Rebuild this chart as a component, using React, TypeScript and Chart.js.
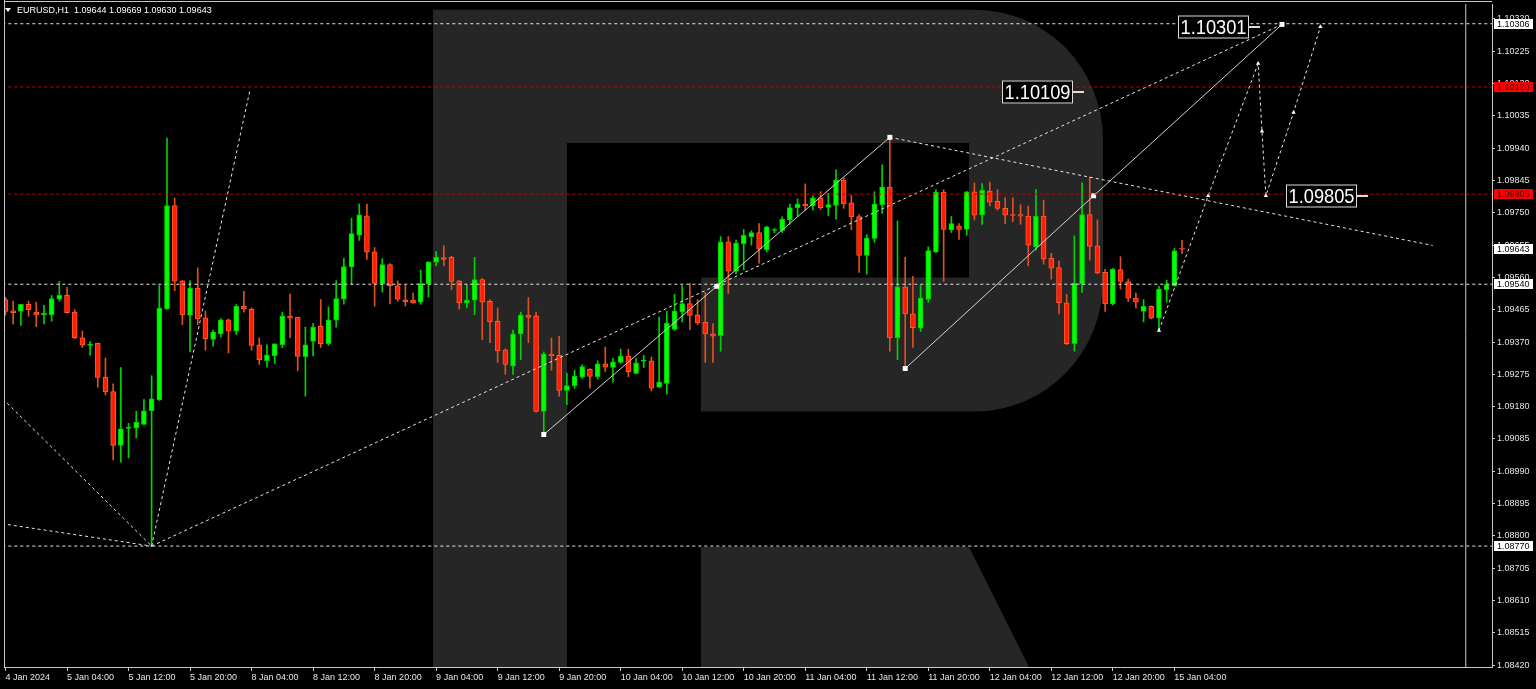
import React, { useEffect, useRef } from "react";
import { Chart, registerables } from "chart.js";

Chart.register(...registerables);

// ---------- data ----------
const open = [
  1.09495, 1.09462, 1.0946, 1.09481, 1.09458, 1.0945, 1.0945, 1.09496, 1.09507, 1.09458,
  1.09382, 1.0936, 1.09366, 1.09267, 1.09224, 1.09066, 1.09116, 1.09117, 1.09128, 1.09168,
  1.092, 1.09467, 1.09771, 1.0955, 1.09448, 1.09529, 1.09441, 1.09378, 1.09394, 1.09435,
  1.09402, 1.09475, 1.09467, 1.09362, 1.09315, 1.0933, 1.09362, 1.09446, 1.09443, 1.09327,
  1.09372, 1.09416, 1.09365, 1.09434, 1.09496, 1.09591, 1.09684, 1.09741, 1.09635, 1.09541,
  1.09598, 1.09535, 1.09494, 1.09493, 1.09487, 1.09541, 1.09605, 1.09618, 1.09619, 1.0955,
  1.09485, 1.09493, 1.09554, 1.0949, 1.09431, 1.09347, 1.093, 1.09394, 1.09449, 1.09447,
  1.09166, 1.09334, 1.09331, 1.09228, 1.09242, 1.09267, 1.0929, 1.09268, 1.09306, 1.09295,
  1.0931, 1.09329, 1.09278, 1.09314, 1.09315, 1.09237, 1.09248, 1.09407, 1.09458, 1.09483,
  1.0945, 1.09429, 1.09394, 1.09389, 1.09665, 1.09578, 1.09659, 1.0968, 1.09692, 1.09641,
  1.09698, 1.09698, 1.09729, 1.09765, 1.09776, 1.0977, 1.09794, 1.09766, 1.09772, 1.09846,
  1.09779, 1.09739, 1.09625, 1.09675, 1.09774, 1.09826, 1.09382, 1.09532, 1.09453, 1.09411,
  1.09495, 1.09635, 1.09811, 1.097, 1.09711, 1.09701, 1.09812, 1.09743, 1.09814, 1.09784,
  1.09763, 1.09745, 1.09745, 1.0974, 1.0965, 1.0974, 1.09616, 1.09589, 1.09485, 1.09365,
  1.09541, 1.09745, 1.09653, 1.09575, 1.09482, 1.09583, 1.09548, 1.09499, 1.0946, 1.09475,
  1.0944, 1.09524, 1.09536, 1.09644,
];
const high = [
  1.09502, 1.0949, 1.09481, 1.0949, 1.09487, 1.09478, 1.09507, 1.09548, 1.09531, 1.09465,
  1.09402, 1.09371, 1.09367, 1.09323, 1.09247, 1.09295, 1.09131, 1.09166, 1.09201, 1.09271,
  1.09536, 1.0997, 1.09793, 1.09551, 1.09551, 1.09588, 1.09461, 1.09405, 1.09439, 1.09438,
  1.0948, 1.09519, 1.0947, 1.09382, 1.09362, 1.09365, 1.09458, 1.09511, 1.09443, 1.09414,
  1.09425, 1.09495, 1.09473, 1.09551, 1.09616, 1.09734, 1.09776, 1.09776, 1.09648, 1.09615,
  1.09601, 1.0955, 1.09537, 1.09514, 1.09582, 1.09607, 1.09636, 1.09653, 1.09622, 1.09551,
  1.09538, 1.09619, 1.09557, 1.09495, 1.0947, 1.0935, 1.09405, 1.09458, 1.09501, 1.09458,
  1.09341, 1.09382, 1.09387, 1.09278, 1.09287, 1.09303, 1.09292, 1.09315, 1.09355, 1.09323,
  1.09349, 1.09349, 1.09321, 1.09331, 1.09326, 1.09443, 1.0946, 1.0951, 1.09536, 1.09542,
  1.09495, 1.09516, 1.09424, 1.0968, 1.0968, 1.0967, 1.09701, 1.09697, 1.09718, 1.09711,
  1.09704, 1.09738, 1.09776, 1.09791, 1.09835, 1.098, 1.09812, 1.09807, 1.09876, 1.09853,
  1.09801, 1.09745, 1.09686, 1.09812, 1.09891, 1.09972, 1.09726, 1.09619, 1.09563, 1.09536,
  1.0965, 1.09818, 1.09818, 1.09739, 1.09718, 1.09813, 1.09838, 1.09836, 1.0984, 1.09818,
  1.09794, 1.09794, 1.09774, 1.0977, 1.09818, 1.09787, 1.09631, 1.09609, 1.0951, 1.09682,
  1.09838, 1.09855, 1.09729, 1.09584, 1.09587, 1.09621, 1.09555, 1.09514, 1.09495, 1.09476,
  1.09534, 1.09552, 1.09645, 1.09669,
];
const low = [
  1.09449, 1.09423, 1.09419, 1.09446, 1.09415, 1.09423, 1.09431, 1.0949, 1.09455, 1.0938,
  1.09354, 1.09331, 1.09237, 1.09214, 1.09023, 1.09017, 1.09029, 1.09088, 1.09127, 1.0877,
  1.09198, 1.09466, 1.09521, 1.09421, 1.09341, 1.09421, 1.09346, 1.09358, 1.09385, 1.09338,
  1.09392, 1.09458, 1.09346, 1.09304, 1.09296, 1.09307, 1.09353, 1.09383, 1.09285, 1.09211,
  1.09329, 1.09354, 1.0936, 1.09414, 1.09481, 1.0954, 1.09669, 1.09613, 1.09475, 1.09517,
  1.09482, 1.0949, 1.09476, 1.09484, 1.09481, 1.09502, 1.09594, 1.09594, 1.09524, 1.09467,
  1.0947, 1.0945, 1.09377, 1.09368, 1.0931, 1.09275, 1.09275, 1.09318, 1.09368, 1.09164,
  1.09098, 1.09287, 1.09211, 1.09186, 1.09234, 1.09263, 1.09234, 1.09261, 1.09283, 1.09253,
  1.09307, 1.09268, 1.09277, 1.09295, 1.09226, 1.09236, 1.09217, 1.09404, 1.09429, 1.09406,
  1.09421, 1.0931, 1.0931, 1.09343, 1.09513, 1.0957, 1.09582, 1.09655, 1.09602, 1.09635,
  1.09692, 1.09692, 1.09716, 1.0974, 1.09758, 1.09758, 1.0976, 1.09742, 1.09731, 1.09763,
  1.097, 1.09575, 1.0957, 1.09663, 1.09748, 1.09343, 1.09318, 1.09292, 1.09354, 1.09401,
  1.09487, 1.09633, 1.09548, 1.09692, 1.09672, 1.09684, 1.09729, 1.09716, 1.0977, 1.09758,
  1.09718, 1.09724, 1.09716, 1.09594, 1.0964, 1.09599, 1.09555, 1.09453, 1.09362, 1.09343,
  1.09516, 1.09611, 1.0957, 1.0946, 1.09479, 1.09526, 1.09489, 1.0947, 1.09429, 1.09438,
  1.09404, 1.09487, 1.09534, 1.0963,
];
const close = [
  1.0946, 1.09456, 1.09481, 1.09465, 1.0945, 1.09455, 1.09498, 1.09507, 1.09456, 1.09382,
  1.09361, 1.09364, 1.09266, 1.09223, 1.09066, 1.09115, 1.0912, 1.09134, 1.09168, 1.09203,
  1.0947, 1.09771, 1.09549, 1.0945, 1.09529, 1.09438, 1.0938, 1.09399, 1.09435, 1.09402,
  1.09475, 1.09467, 1.0936, 1.09318, 1.09332, 1.09365, 1.09446, 1.0944, 1.09328, 1.09362,
  1.09414, 1.09365, 1.09435, 1.09498, 1.09592, 1.09689, 1.09744, 1.09634, 1.09542, 1.09598,
  1.09536, 1.09496, 1.09489, 1.09485, 1.09542, 1.09605, 1.09619, 1.09613, 1.09548, 1.09485,
  1.09493, 1.09554, 1.09487, 1.09429, 1.09344, 1.09304, 1.09394, 1.0945, 1.09442, 1.09166,
  1.09335, 1.0933, 1.09228, 1.09242, 1.0927, 1.09298, 1.09269, 1.09306, 1.09296, 1.09312,
  1.09329, 1.09283, 1.09309, 1.09316, 1.09234, 1.09252, 1.09426, 1.09461, 1.09483, 1.09448,
  1.09426, 1.09394, 1.09387, 1.09665, 1.09578, 1.09661, 1.09684, 1.09692, 1.09643, 1.09709,
  1.09701, 1.09731, 1.09765, 1.09776, 1.0977, 1.09794, 1.09765, 1.09774, 1.09846, 1.09776,
  1.09738, 1.09625, 1.09676, 1.09776, 1.09826, 1.09382, 1.09532, 1.09453, 1.09412, 1.09499,
  1.09639, 1.09811, 1.09701, 1.09718, 1.09701, 1.09812, 1.09743, 1.09817, 1.09781, 1.09763,
  1.09743, 1.09742, 1.0974, 1.09655, 1.0974, 1.09614, 1.09587, 1.09485, 1.09365, 1.09543,
  1.09745, 1.09651, 1.09573, 1.09482, 1.09584, 1.09548, 1.09499, 1.09487, 1.09475, 1.0944,
  1.09526, 1.09539, 1.09638, 1.09643,
];

const xTickIdx = [0, 8, 16, 24, 32, 40, 48, 56, 64, 72, 80, 88, 96, 104, 112, 120, 128, 136, 144, 152];
const xTickLabels = [
  "4 Jan 2024", "5 Jan 04:00", "5 Jan 12:00", "5 Jan 20:00", "8 Jan 04:00", "8 Jan 12:00",
  "8 Jan 20:00", "9 Jan 04:00", "9 Jan 12:00", "9 Jan 20:00", "10 Jan 04:00", "10 Jan 12:00",
  "10 Jan 20:00", "11 Jan 04:00", "11 Jan 12:00", "11 Jan 20:00", "12 Jan 04:00", "12 Jan 12:00",
  "12 Jan 20:00", "15 Jan 04:00",
];
const yTicks = [
  1.0842, 1.08515, 1.0861, 1.08705, 1.088, 1.08895, 1.0899, 1.09085, 1.0918, 1.09275, 1.0937,
  1.09465, 1.0956, 1.09655, 1.0975, 1.09845, 1.0994, 1.10035, 1.1013, 1.10225, 1.1032,
];

// horizontal levels
const whiteLevels = [1.10306, 1.0954, 1.0877];
const redLevels = [1.1012, 1.09805];
// analysis lines: [barIndex, price]
const dashedLines: number[][][] = [
  [[-2, 1.0924], [19, 1.0877]],
  [[-2, 1.08841], [19, 1.0877]],
  [[19, 1.0877], [31.75, 1.10107]],
  [[19, 1.0877], [166, 1.10304]],
  [[115, 1.09972], [185.6, 1.09654]],
];
const solidLines: number[][][] = [
  [[70, 1.09098], [92.5, 1.09534], [115, 1.09972]],
  [[117, 1.09292], [141.5, 1.098], [166, 1.10304]],
];
const forecastPath: number[][] = [
  [150, 1.09404], [156.4, 1.098], [162.9, 1.10189], [163.4, 1.0999], [163.9, 1.098], [167.5, 1.10045], [171, 1.10297],
];
const separatorIdx = 189.9;
const noteTexts = ["1.10301", "1.10109", "1.09805"];
const noteIdx = [161.75, 138.8, 175.8];
const notePrice = [1.10296, 1.10105, 1.098];
const axisMarkPrices = [1.10306, 1.1012, 1.09805, 1.09643, 1.0954, 1.0877];
const axisMarkRed = [false, true, true, false, false, false];

const X_MIN = -0.1948;
const X_MAX = 193.31;
const Y_MIN = 1.084144;
const Y_MAX = 1.10364;

const FONT = '"Liberation Sans", Arial, sans-serif';

export default function App() {
  const ref = useRef<HTMLCanvasElement | null>(null);

  useEffect(() => {
    document.body.style.margin = "0";
    document.body.style.background = "#000";
    const canvas = ref.current;
    if (!canvas) return;

    const idx = open.map((_, i) => i);
    const bull = idx.map((i) => close[i] >= open[i]);

    const lineDs = (pts: number[][], color: string, dash: number[], extra: any = {}) => ({
      type: "line",
      data: pts.map((p) => ({ x: p[0], y: p[1] })),
      borderColor: color,
      borderWidth: 1,
      borderDash: dash,
      pointRadius: 0,
      fill: false,
      tension: 0,
      order: 0,
      ...extra,
    });

    const datasets: any[] = [];
    whiteLevels.forEach((p) => datasets.push(lineDs([[X_MIN - 1, p], [X_MAX + 1, p]], "#e6e6e6", [3, 3])));
    redLevels.forEach((p) => datasets.push(lineDs([[X_MIN - 1, p], [X_MAX + 1, p]], "#d00000", [3, 3])));
    datasets.push(lineDs([[separatorIdx, Y_MIN - 0.01], [separatorIdx, Y_MAX + 0.01]], "#c8c8c8", []));
    dashedLines.forEach((l) => datasets.push(lineDs(l, "#e6e6e6", [3, 3])));
    solidLines.forEach((l) =>
      datasets.push(
        lineDs(l, "#d2d2d2", [], {
          pointRadius: 3.5,
          pointStyle: "rect",
          pointBackgroundColor: "#ffffff",
          pointBorderColor: "#ffffff",
          pointBorderWidth: 0,
        })
      )
    );
    datasets.push(
      lineDs(forecastPath, "#e6e6e6", [3, 3], {
        pointRadius: 2.5,
        pointStyle: "triangle",
        pointBackgroundColor: "#ffffff",
        pointBorderColor: "#ffffff",
        pointBorderWidth: 0,
      })
    );
    // wicks
    datasets.push({
      type: "bar",
      data: idx.map((i) => ({ x: i, y: [low[i], high[i]] })),
      backgroundColor: bull.map((b) => (b ? "#00d200" : "#e0501e")),
      borderWidth: 0,
      barThickness: 1,
      grouped: false,
      minBarLength: 1,
      order: 3,
    });
    // bodies
    datasets.push({
      type: "bar",
      data: idx.map((i) => ({ x: i, y: [open[i], close[i]] })),
      backgroundColor: bull.map((b) => (b ? "#00ff00" : "#ff1e00")),
      borderColor: bull.map((b) => (b ? "#00c800" : "#ff5a32")),
      borderWidth: 1,
      borderSkipped: false,
      barThickness: 5,
      grouped: false,
      minBarLength: 1,
      order: 2,
    });

    const bgPlugin = {
      id: "bgR",
      beforeDraw(chart: any) {
        const ctx = chart.ctx as CanvasRenderingContext2D;
        ctx.save();
        ctx.fillStyle = "#000";
        ctx.fillRect(0, 0, chart.width, chart.height);
        // watermark "R"
        ctx.fillStyle = "#262626";
        ctx.beginPath();
        ctx.moveTo(433, 9.7);
        ctx.lineTo(975, 9.7);
        ctx.ellipse(975, 140, 128, 130.3, 0, -Math.PI / 2, 0, false);
        ctx.lineTo(1103, 281);
        ctx.ellipse(975, 281, 128, 130.5, 0, 0, Math.PI / 2, false);
        ctx.lineTo(701, 411.5);
        ctx.lineTo(701, 277.6);
        ctx.lineTo(969, 277.6);
        ctx.lineTo(969, 143);
        ctx.lineTo(567, 143);
        ctx.lineTo(567, 667);
        ctx.lineTo(433, 667);
        ctx.closePath();
        ctx.fill();
        ctx.beginPath();
        ctx.moveTo(701, 547);
        ctx.lineTo(969, 547);
        ctx.lineTo(1029, 667);
        ctx.lineTo(701, 667);
        ctx.closePath();
        ctx.fill();
        ctx.restore();
      },
      afterDraw(chart: any) {
        const ctx = chart.ctx as CanvasRenderingContext2D;
        const xs = chart.scales.x;
        const ys = chart.scales.y;
        const area = chart.chartArea;
        ctx.save();
        // frame top + left
        ctx.strokeStyle = "#c8c8c8";
        ctx.lineWidth = 1;
        ctx.beginPath();
        ctx.moveTo(area.left, 1.5);
        ctx.lineTo(area.right, 1.5);
        ctx.moveTo(area.left + 0.5, 0);
        ctx.lineTo(area.left + 0.5, area.bottom);
        ctx.stroke();

        // header
        ctx.fillStyle = "#ffffff";
        ctx.beginPath();
        ctx.moveTo(5, 8);
        ctx.lineTo(11, 8);
        ctx.lineTo(8, 12);
        ctx.closePath();
        ctx.fill();
        const n = open.length - 1;
        ctx.font = `9px ${FONT}`;
        ctx.textBaseline = "middle";
        ctx.textAlign = "left";
        ctx.fillText(
          `EURUSD,H1  ${open[n].toFixed(5)} ${high[n].toFixed(5)} ${low[n].toFixed(5)} ${close[n].toFixed(5)}`,
          17,
          10.5
        );

        // note boxes
        noteTexts.forEach((t, k) => {
          const xr = Math.round(xs.getPixelForValue(noteIdx[k]));
          const yc = Math.round(ys.getPixelForValue(notePrice[k]));
          const w = 71;
          const h = 23;
          ctx.fillStyle = "#000";
          ctx.fillRect(xr - w, yc - h / 2, w, h);
          ctx.strokeStyle = "#dcdcdc";
          ctx.lineWidth = 1;
          ctx.strokeRect(xr - w + 0.5, yc - h / 2 + 0.5, w - 1, h - 1);
          ctx.lineWidth = 2;
          ctx.beginPath();
          ctx.moveTo(xr, yc);
          ctx.lineTo(xr + 11, yc);
          ctx.stroke();
          ctx.save();
          ctx.translate(xr - w / 2, yc + 1);
          ctx.scale(0.87, 1);
          ctx.font = `21px ${FONT}`;
          ctx.fillStyle = "#ffffff";
          ctx.textAlign = "center";
          ctx.textBaseline = "middle";
          ctx.fillText(t, 0, 0);
          ctx.restore();
        });

        // axis price marks
        axisMarkPrices.forEach((p, k) => {
          const yc = Math.round(ys.getPixelForValue(p));
          ctx.fillStyle = axisMarkRed[k] ? "#ff0000" : "#ffffff";
          ctx.fillRect(area.right + 2, yc - 5, 39, 10);
          ctx.fillStyle = axisMarkRed[k] ? "#3c0000" : "#000000";
          ctx.font = `9px ${FONT}`;
          ctx.textAlign = "left";
          ctx.textBaseline = "middle";
          ctx.fillText(p.toFixed(5), area.right + 5, yc + 0.5);
        });
        ctx.restore();
      },
    };

    const chart = new Chart(canvas, {
      type: "bar",
      data: { datasets },
      options: {
        responsive: false,
        maintainAspectRatio: false,
        animation: false,
        devicePixelRatio: 1,
        events: [],
        layout: { padding: { left: 2, top: 0, right: 0, bottom: 0 } },
        plugins: {
          legend: { display: false },
          tooltip: { enabled: false },
          title: { display: false },
        },
        scales: {
          x: {
            type: "linear",
            position: "bottom",
            min: X_MIN,
            max: X_MAX,
            bounds: "data",
            offset: false,
            grid: {
              display: true,
              drawOnChartArea: false,
              drawTicks: true,
              tickLength: 4,
              color: "#c8c8c8",
              offset: false,
            },
            border: { display: true, color: "#c8c8c8", width: 1 },
            ticks: {
              autoSkip: false,
              maxRotation: 0,
              minRotation: 0,
              align: "start",
              padding: 1,
              color: "#e6e6e6",
              font: { family: FONT, size: 9 },
              callback: (v: any) => {
                const k = xTickIdx.indexOf(Number(v));
                return k >= 0 ? xTickLabels[k] : "";
              },
            },
            afterBuildTicks: (s: any) => {
              s.ticks = xTickIdx.map((v) => ({ value: v }));
            },
            afterFit: (s: any) => {
              s.height = 22;
              s.paddingLeft = 0;
              s.paddingRight = 0;
            },
          },
          y: {
            type: "linear",
            position: "right",
            min: Y_MIN,
            max: Y_MAX,
            bounds: "data",
            grid: {
              display: true,
              drawOnChartArea: false,
              drawTicks: true,
              tickLength: 3,
              color: "#c8c8c8",
            },
            border: { display: true, color: "#c8c8c8", width: 1 },
            ticks: {
              autoSkip: false,
              padding: 2,
              color: "#e6e6e6",
              font: { family: FONT, size: 9 },
              callback: (v: any) => Number(v).toFixed(5),
            },
            afterBuildTicks: (s: any) => {
              s.ticks = yTicks.map((v) => ({ value: v }));
            },
            afterFit: (s: any) => {
              s.width = 44;
              s.paddingTop = 0;
              s.paddingBottom = 0;
            },
          },
        },
      } as any,
      plugins: [bgPlugin],
    } as any);

    return () => chart.destroy();
  }, []);

  return (
    <div style={{ width: 1536, height: 689, background: "#000", overflow: "hidden" }}>
      <canvas ref={ref} width={1536} height={689} style={{ display: "block" }} />
    </div>
  );
}
